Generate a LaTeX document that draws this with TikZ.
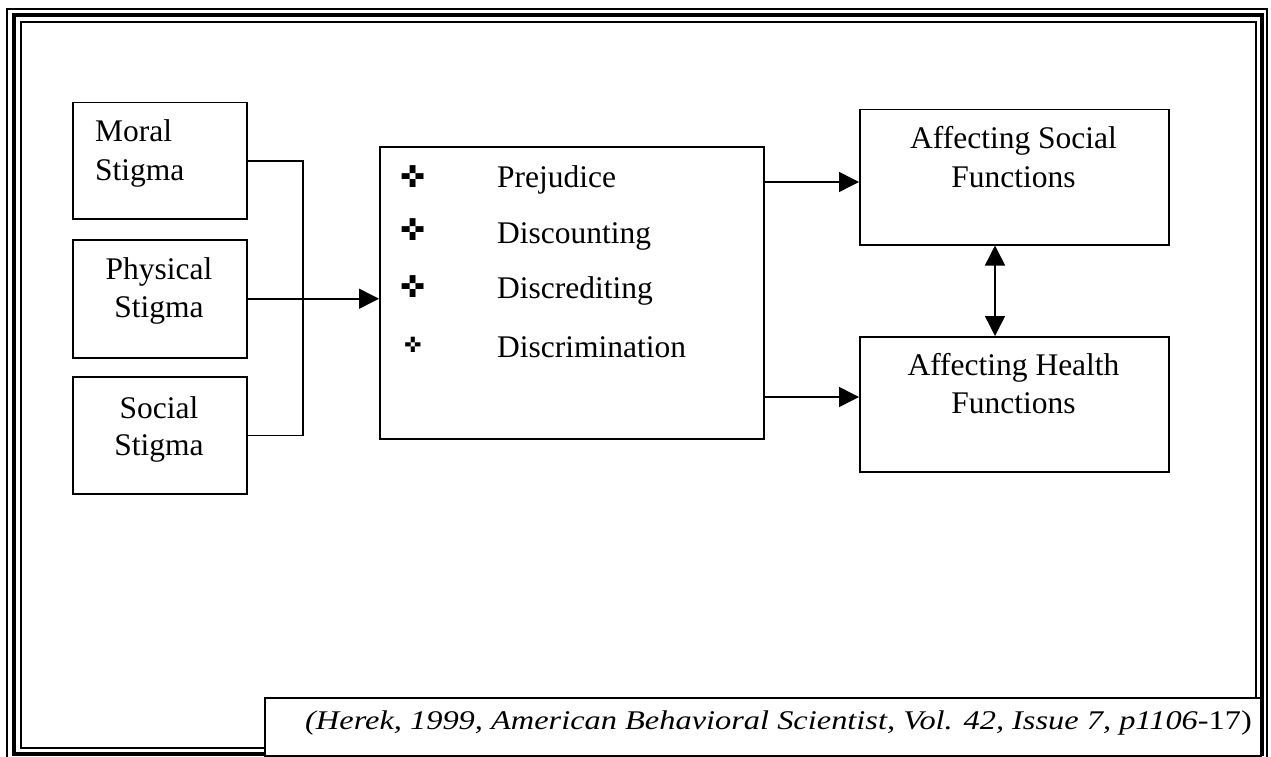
\documentclass[tikz,border=0pt]{standalone}
\usepackage{fontspec}
\setmainfont{Liberation Serif}
\newfontfamily\symfont{DejaVu Sans}
\usetikzlibrary{arrows.meta}
\begin{document}
\begin{tikzpicture}[x=1pt,y=-1pt,
  box/.style={draw, line width=1.5pt, inner sep=0pt, anchor=north west, fill=white},
  txt/.style={inner sep=0pt, font=\fontsize{31.5}{36}\selectfont},
  bul/.style={inner sep=0pt, font=\symfont\fontsize{30}{30}\selectfont},
  conn/.style={line width=1.5pt},
  arr/.style={line width=1.5pt, -{Triangle[length=20pt,width=20pt]}},
  darr/.style={line width=1.5pt, {Triangle[length=20pt,width=20pt]}-{Triangle[length=20pt,width=20pt]}}
]
\useasboundingbox (0,0) rectangle (1271,757);
\fill[white] (0,0) rectangle (1271,757);
% frame
\draw[line width=1.4pt] (7,9) rectangle (1267,762);
\draw[line width=4pt] (13.5,15) rectangle (1261.5,754);
\draw[line width=1.4pt] (21,22) rectangle (1256,748);

% left boxes
\node[box, minimum width=174pt, minimum height=116pt] (moral) at (72,102) {};
\node[box, minimum width=174pt, minimum height=118pt] (phys) at (72,239) {};
\node[box, minimum width=174pt, minimum height=117pt] (soc) at (72,376) {};
\node[txt, anchor=base west] (t1) at (95,142) {Moral};
\node[txt, anchor=base west] (t2) at (95,180) {Stigma};
\node[txt, anchor=base] (t3) at (159,279) {Physical};
\node[txt, anchor=base] (t4) at (159,317) {Stigma};
\node[txt, anchor=base] (t5) at (159,418) {Social};
\node[txt, anchor=base] (t6) at (159,455) {Stigma};

% middle box
\node[box, minimum width=384pt, minimum height=292pt] (mid) at (379,146) {};
\node[bul] (b1) at (413,177) {✜};
\node[bul] (b2) at (413,230) {✜};
\node[bul] (b3) at (413,287) {✜};
\node[bul, font=\symfont\fontsize{21}{21}\selectfont] (b4) at (413,345) {✜};
\node[txt, anchor=base west] (m1) at (497,187) {Prejudice};
\node[txt, anchor=base west] (m2) at (497,243) {Discounting};
\node[txt, anchor=base west] (m3) at (497,298) {Discrediting};
\node[txt, anchor=base west] (m4) at (497,357) {Discrimination};

% right boxes
\node[box, minimum width=309pt, minimum height=135pt] (sf) at (859,109) {};
\node[box, minimum width=309pt, minimum height=135pt] (hf) at (859,336) {};
\node[txt, anchor=base] (r1) at (1013.5,148) {Affecting Social};
\node[txt, anchor=base] (r2) at (1013.5,187) {Functions};
\node[txt, anchor=base] (r3) at (1013.5,375) {Affecting Health};
\node[txt, anchor=base] (r4) at (1013.5,413) {Functions};

% connectors
\coordinate (bus) at (303,161);
\draw[conn] (moral.east) -- (moral.east -| bus) |- (soc.east);
\draw[arr] (phys.east) -- (phys.east -| mid.west);
\coordinate (ya) at (0,182);
\coordinate (yb) at (0,397);
\coordinate (xd) at (995,0);
\draw[arr] (mid.east |- ya) -- (sf.west |- ya);
\draw[arr] (mid.east |- yb) -- (hf.west |- yb);
\draw[darr] (sf.south -| xd) -- (hf.north -| xd);

% citation
\node[box, minimum width=996pt, minimum height=58pt] (cite) at (264,697) {};
\node[inner sep=0pt, anchor=base east, font=\fontsize{27}{30}\selectfont] (ct) at (1252,729) {\scalebox{1.2}[1]{\textit{(Herek, 1999, American Behavioral Scientist, Vol. 42, Issue 7, p1106}-17)}};
\end{tikzpicture}
\end{document}
